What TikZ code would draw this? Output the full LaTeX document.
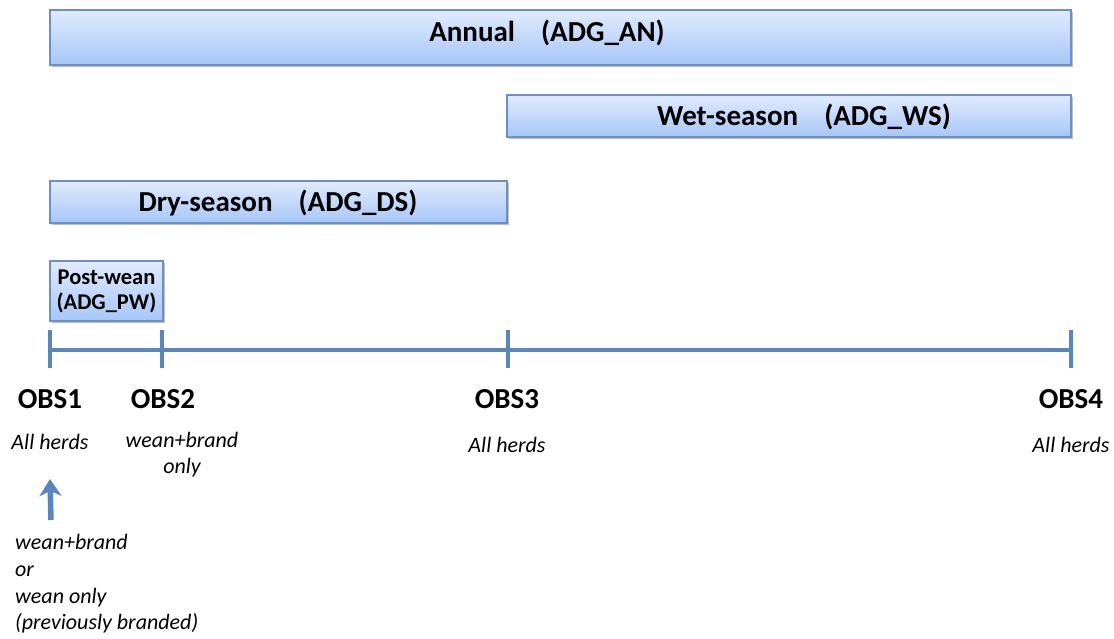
\documentclass[tikz,border=0pt]{standalone}
\usepackage{fontspec}
\setmainfont{Carlito}
\usetikzlibrary{shadows,arrows.meta}
\definecolor{boxtop}{HTML}{E0EBFD}
\definecolor{boxbot}{HTML}{A6C6F8}
\definecolor{boxline}{HTML}{6A90C6}
\definecolor{tline}{HTML}{5A86BE}
\begin{document}
\begin{tikzpicture}[x=1pt,y=-1pt,
  period/.style={draw=boxline, line width=1.2pt, top color=boxtop, bottom color=boxbot,
    drop shadow={shadow xshift=1.5pt, shadow yshift=-2pt, fill=black, opacity=0.25},
    inner sep=0pt},
  ptext/.style={font=\bfseries\fontsize{29}{32}\selectfont, inner sep=0pt},
  obs/.style={font=\bfseries\fontsize{29}{32}\selectfont, inner sep=0pt},
  note/.style={font=\itshape\fontsize{22}{26}\selectfont, inner sep=0pt, align=center},
  tick/.style={draw=tline, line width=3.5pt}]
\useasboundingbox (0,0) rectangle (1114,639);
\node[period, minimum width=1021pt, minimum height=55pt] (an) at (560.5,37.5) {};
\node[period, minimum width=564pt, minimum height=42pt] (ws) at (789,116) {};
\node[period, minimum width=457pt, minimum height=42pt] (ds) at (278.5,202) {};
\node[period, minimum width=113pt, minimum height=60pt] (pw) at (106.5,291) {};
\node[ptext] (ant) at (547,33) {Annual\hspace{0.9em}(ADG\_AN)};
\node[ptext] (wst) at (804,117) {Wet-season\hspace{0.9em}(ADG\_WS)};
\node[ptext] (dst) at (278,203) {Dry-season\hspace{0.9em}(ADG\_DS)};
\node[ptext, align=center, font=\bfseries\fontsize{22.5}{25}\selectfont] (pwt) at (pw) {Post-wean\\(ADG\_PW)};
\coordinate (t1) at (50,350);
\coordinate (t2) at (162,350);
\coordinate (t3) at (508,350);
\coordinate (t4) at (1071,350);
\draw[tick] (t1) -- (t4);
\foreach \t in {t1,t2,t3,t4} \draw[tick] ([yshift=-18pt]\t) -- ([yshift=20pt]\t);
\node[obs] (o1) at (50,399) {OBS1};
\node[obs] (o2) at (163,399) {OBS2};
\node[obs] (o3) at (507,399) {OBS3};
\node[obs] (o4) at (1071,399) {OBS4};
\node[note] (n1) at (50,442) {All herds};
\node[note, anchor=north] (n2) at (182,432) {wean+brand\\only};
\node[note] (n3) at (507,445) {All herds};
\node[note] (n4) at (1071,445) {All herds};
\node[note, align=left, anchor=north west, font=\itshape\fontsize{22}{26.8}\selectfont] (n5) at (15,534) {wean+brand\\or\\wean only\\(previously branded)};
\coordinate (a0) at (51,520);
\draw[draw=tline, line width=5.5pt, -{Stealth[length=17pt,width=22pt,inset=5pt]}] (a0) -- (n1.south |- 0,479);
\end{tikzpicture}
\end{document}
